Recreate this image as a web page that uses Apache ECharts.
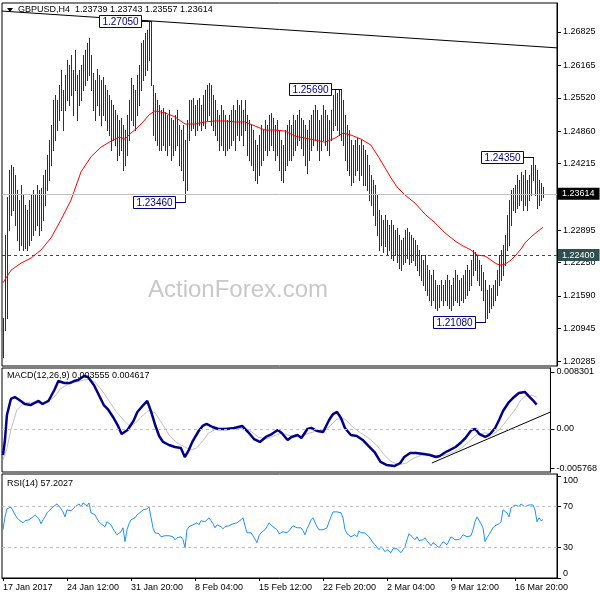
<!DOCTYPE html>
<html><head><meta charset="utf-8">
<script src="https://cdn.jsdelivr.net/npm/echarts@6/dist/echarts.min.js"></script>
<style>html,body{margin:0;padding:0;background:#fff}#c{width:600px;height:600px}</style>
</head><body><div id="c"></div>
<script>
// ---------- DATA ----------
const symbol = 'GBPUSD,H4';
const lastOHLC = [1.23739, 1.23743, 1.23557, 1.23614];

const highs = [
1.2115,1.2280,1.2355,1.2409,1.2419,1.2415,1.2399,1.2369,1.2349,1.2379,
1.2359,1.2339,1.2329,1.2349,1.2359,1.2369,1.2359,1.2379,1.2369,1.2373,
1.2399,1.2409,1.2439,1.2468,1.2498,1.2548,1.2558,1.2548,1.2577,1.2607,
1.2567,1.2597,1.2627,1.2617,1.2637,1.2607,1.2647,1.2597,1.2607,1.2617,
1.2637,1.2647,1.2661,1.2671,1.2637,1.2601,1.2587,1.2609,1.2597,1.2587,
1.2593,1.2577,1.2567,1.2558,1.2548,1.2538,1.2528,1.2518,1.2508,1.2512,
1.2498,1.2488,1.2518,1.2548,1.2591,1.2577,1.2567,1.2597,1.2617,1.2661,
1.2667,1.2681,1.2687,1.2702,1.2705,1.2577,1.2561,1.2548,1.2538,1.2528,
1.2532,1.2524,1.2518,1.2528,1.2512,1.2508,1.2518,1.2528,1.2498,1.2488,
1.2498,1.2468,1.2508,1.2548,1.2548,1.2552,1.2538,1.2548,1.2552,1.2538,
1.2558,1.2567,1.2577,1.2581,1.2577,1.2558,1.2548,1.2528,1.2518,1.2538,
1.2528,1.2518,1.2508,1.2518,1.2528,1.2538,1.2528,1.2548,1.2538,1.2548,
1.2528,1.2548,1.2518,1.2508,1.2498,1.2488,1.2468,1.2458,1.2478,1.2498,
1.2488,1.2508,1.2498,1.2518,1.2522,1.2512,1.2498,1.2508,1.2488,1.2468,
1.2458,1.2488,1.2498,1.2508,1.2498,1.2518,1.2508,1.2518,1.2528,1.2512,
1.2508,1.2498,1.2488,1.2508,1.2518,1.2528,1.2538,1.2528,1.2508,1.2518,
1.2538,1.2528,1.2518,1.2508,1.2528,1.2558,1.2567,1.2561,1.2567,1.2569,
1.2548,1.2518,1.2498,1.2488,1.2468,1.2458,1.2468,1.2472,1.2458,1.2468,
1.2458,1.2448,1.2439,1.2419,1.2399,1.2389,1.2379,1.2359,1.2329,1.2319,
1.2310,1.2319,1.2310,1.2300,1.2310,1.2300,1.2290,1.2294,1.2280,1.2270,
1.2274,1.2290,1.2294,1.2286,1.2280,1.2274,1.2270,1.2260,1.2250,1.2240,
1.2230,1.2240,1.2220,1.2210,1.2200,1.2210,1.2191,1.2181,1.2181,1.2191,
1.2181,1.2191,1.2200,1.2191,1.2181,1.2194,1.2210,1.2200,1.2191,1.2194,
1.2200,1.2210,1.2220,1.2210,1.2230,1.2250,1.2246,1.2240,1.2230,1.2220,
1.2206,1.2191,1.2171,1.2181,1.2175,1.2181,1.2191,1.2210,1.2240,1.2250,
1.2260,1.2280,1.2319,1.2349,1.2369,1.2373,1.2379,1.2399,1.2389,1.2405,
1.2399,1.2409,1.2389,1.2399,1.2419,1.2435,1.2419,1.2409,1.2389,1.2383,
1.23743];

const lows = [
1.2038,1.2091,1.2115,1.2290,1.2319,1.2329,1.2300,1.2270,1.2250,1.2260,
1.2250,1.2254,1.2250,1.2260,1.2270,1.2280,1.2290,1.2300,1.2280,1.2290,
1.2310,1.2339,1.2369,1.2389,1.2419,1.2448,1.2468,1.2488,1.2508,1.2528,
1.2488,1.2528,1.2548,1.2538,1.2558,1.2518,1.2567,1.2508,1.2538,1.2548,
1.2567,1.2577,1.2587,1.2597,1.2567,1.2528,1.2508,1.2538,1.2518,1.2498,
1.2518,1.2508,1.2488,1.2478,1.2448,1.2468,1.2458,1.2429,1.2439,1.2448,
1.2409,1.2419,1.2439,1.2468,1.2508,1.2498,1.2488,1.2518,1.2538,1.2567,
1.2587,1.2597,1.2607,1.2627,1.2577,1.2478,1.2468,1.2458,1.2448,1.2448,
1.2458,1.2448,1.2439,1.2458,1.2429,1.2439,1.2448,1.2458,1.2419,1.2409,
1.2389,1.2346,1.2369,1.2468,1.2488,1.2492,1.2478,1.2488,1.2498,1.2488,
1.2498,1.2492,1.2508,1.2518,1.2498,1.2488,1.2478,1.2468,1.2448,1.2458,
1.2448,1.2439,1.2448,1.2452,1.2458,1.2468,1.2448,1.2478,1.2468,1.2478,
1.2458,1.2488,1.2439,1.2429,1.2419,1.2409,1.2389,1.2383,1.2399,1.2419,
1.2429,1.2448,1.2439,1.2448,1.2458,1.2448,1.2429,1.2439,1.2409,1.2389,
1.2385,1.2409,1.2419,1.2429,1.2429,1.2439,1.2448,1.2458,1.2468,1.2452,
1.2439,1.2419,1.2403,1.2429,1.2448,1.2458,1.2468,1.2448,1.2429,1.2448,
1.2468,1.2458,1.2448,1.2439,1.2468,1.2488,1.2498,1.2488,1.2478,1.2468,
1.2458,1.2429,1.2409,1.2399,1.2379,1.2385,1.2399,1.2409,1.2389,1.2399,
1.2379,1.2379,1.2369,1.2349,1.2339,1.2319,1.2300,1.2280,1.2250,1.2260,
1.2246,1.2258,1.2240,1.2250,1.2234,1.2230,1.2240,1.2226,1.2214,1.2210,
1.2222,1.2226,1.2234,1.2222,1.2226,1.2230,1.2220,1.2210,1.2200,1.2191,
1.2181,1.2171,1.2161,1.2151,1.2141,1.2151,1.2135,1.2131,1.2137,1.2151,
1.2141,1.2151,1.2141,1.2135,1.2131,1.2141,1.2151,1.2147,1.2141,1.2151,
1.2147,1.2155,1.2161,1.2171,1.2181,1.2200,1.2210,1.2191,1.2181,1.2171,
1.2151,1.2108,1.2115,1.2127,1.2135,1.2141,1.2151,1.2161,1.2181,1.2191,
1.2200,1.2220,1.2250,1.2260,1.2300,1.2329,1.2325,1.2333,1.2339,1.2349,
1.2329,1.2339,1.2329,1.2349,1.2359,1.2389,1.2359,1.2333,1.2339,1.2349,
1.23557];

const smaX = [0,4,9,14,19,24,29,34,39,44,49,54,58,61,64,67,70,73,76,81,86,91,96,101,106,111,116,121,126,131,136,141,146,151,156,161,166,170,174,179,184,188,191,194,197,201,206,211,216,221,226,230,234,237,241,244,247,249,251,254,256,259,261,264,267,270];
const smaY = [1.2185,1.2210,1.2224,1.2234,1.2250,1.2274,1.2310,1.2349,1.2405,1.2435,1.2454,1.2466,1.2474,1.2470,1.2482,1.2492,1.2504,1.2518,1.2526,1.2522,1.2514,1.2500,1.2500,1.2504,1.2506,1.2506,1.2504,1.2504,1.2496,1.2488,1.2488,1.2486,1.2476,1.2472,1.2468,1.2464,1.2472,1.2482,1.2478,1.2470,1.2458,1.2433,1.2413,1.2393,1.2375,1.2359,1.2343,1.2321,1.2304,1.2284,1.2268,1.2258,1.2250,1.2240,1.2238,1.2230,1.2222,1.2220,1.2222,1.2230,1.2238,1.2252,1.2264,1.2276,1.2286,1.2295];

const trendX = [-0.5, 277];
const trendY = [1.2724, 1.2651];
const supportLevel = 1.2240;

const annotX = [74, 91, 169, 241, 265];
const annotY = [1.2705, 1.2346, 1.2569, 1.2108, 1.2435];

const priceTicks = [1.26825,1.26165,1.25520,1.24860,1.24215,1.22895,1.22250,1.21590,1.20945,1.20285];

const macdX = [0,1,2,4,6,9,11,14,16,18,20,21,23,26,28,29,31,34,36,38,41,43,44,46,48,51,53,56,58,60,61,63,66,68,71,73,75,77,79,81,84,87,90,92,94,96,99,101,103,106,109,113,117,121,124,127,130,133,136,139,141,144,146,149,151,154,156,159,162,165,167,169,171,173,176,179,182,185,188,191,194,198,201,203,206,209,213,216,219,221,224,226,229,232,234,237,239,241,244,246,249,251,253,256,258,261,264,266,268,270];
const macdY = [-0.00379,-0.00160,0.00204,0.00437,0.00466,0.00408,0.00364,0.00349,0.00379,0.00408,
0.00364,0.00349,0.00408,0.00568,0.00699,0.00713,0.00670,0.00670,0.00699,0.00713,
0.00772,0.00757,0.00728,0.00641,0.00524,0.00349,0.00291,0.00160,0.00058,-0.00073,
-0.00102,-0.00015,0.00116,0.00248,0.00349,0.00408,0.00248,0.00058,-0.00102,-0.00189,
-0.00233,-0.00262,-0.00277,-0.00408,-0.00306,-0.00175,-0.00029,0.00044,0.00073,0.00029,
0.00000,0.00000,0.00015,0.00044,-0.00044,-0.00146,-0.00189,-0.00116,-0.00073,-0.00015,
-0.00058,-0.00160,-0.00116,-0.00087,-0.00131,0.00000,0.00015,-0.00029,-0.00044,0.00131,
0.00218,0.00248,0.00160,0.00015,-0.00087,-0.00102,-0.00160,-0.00248,-0.00335,-0.00480,
-0.00524,-0.00539,-0.00495,-0.00408,-0.00349,-0.00349,-0.00364,-0.00379,-0.00408,-0.00393,
-0.00335,-0.00306,-0.00262,-0.00189,-0.00131,-0.00015,0.00000,-0.00073,-0.00116,-0.00087,
0.00015,0.00131,0.00262,0.00393,0.00451,0.00524,0.00539,0.00480,0.00422,0.003555];

const signalX = [0,2,4,7,11,15,19,22,26,29,33,37,41,44,47,51,54,57,61,64,67,71,74,77,81,84,88,92,95,98,101,104,108,113,118,123,126,129,133,137,141,144,148,151,155,159,163,166,169,173,177,181,185,189,193,196,200,204,208,212,216,220,224,228,232,236,240,244,248,251,255,259,262,265,268,270];
const signalY = [-0.00451,-0.00277,-0.00015,0.00277,0.00393,0.00379,0.00379,0.00393,0.00466,0.00582,
0.00655,0.00684,0.00713,0.00728,0.00670,0.00524,0.00393,0.00262,0.00131,0.00044,
0.00087,0.00204,0.00277,0.00233,0.00058,-0.00087,-0.00204,-0.00262,-0.00306,-0.00277,
-0.00175,-0.00058,0.00000,0.00015,0.00015,0.00000,-0.00044,-0.00116,-0.00146,-0.00102,
-0.00058,-0.00087,-0.00116,-0.00102,-0.00058,-0.00029,-0.00015,0.00058,0.00146,0.00146,
0.00029,-0.00058,-0.00131,-0.00233,-0.00379,-0.00466,-0.00524,-0.00495,-0.00422,-0.00379,
-0.00379,-0.00393,-0.00379,-0.00335,-0.00277,-0.00175,-0.00073,-0.00058,-0.00073,-0.00015,
0.00131,0.00277,0.00422,0.00495,0.00490,0.004617];

const macdTrendX = [217, 277];
const macdTrendY = [-0.00495, 0.002475];
const macdTicks = [0.008301, 0, -0.005768];

const rsi = [
47.3,59.9,67.8,69.7,69.5,65.8,61.9,59.0,57.0,55.1,
54.1,56.1,58.0,57.0,58.0,59.9,61.9,62.8,58.0,53.1,
57.0,59.9,63.8,65.8,67.7,69.7,70.6,72.6,70.6,68.7,
64.8,59.9,66.8,66.8,65.8,66.8,69.7,70.6,72.6,69.7,
73.6,74.6,70.6,73.6,63.8,61.9,61.9,58.0,55.1,53.1,
51.2,50.2,55.1,57.0,52.1,48.2,45.3,42.4,43.4,45.3,
49.2,35.6,47.3,53.1,57.0,56.1,59.0,61.9,63.8,64.8,
66.8,65.8,67.7,69.7,68.7,49.2,44.3,42.4,43.4,40.4,
41.4,41.4,39.5,41.4,40.4,40.4,37.5,39.5,41.4,40.4,
37.5,29.7,47.3,50.2,51.2,52.1,53.1,54.1,52.1,56.1,
58.0,55.1,57.0,59.0,56.1,53.1,49.2,52.1,53.1,50.2,
48.2,50.2,49.2,51.2,52.1,53.1,52.1,54.1,55.1,57.0,
59.0,51.2,44.3,43.4,44.3,41.4,40.4,34.6,41.4,44.3,
45.3,47.3,50.2,54.1,53.1,50.2,52.1,47.3,43.4,42.4,
45.3,46.3,44.3,46.3,48.2,51.2,52.1,49.2,50.2,49.2,
46.3,42.4,48.2,52.1,57.0,59.0,58.0,50.2,47.3,49.2,
47.3,46.3,49.2,55.1,59.9,64.8,63.8,64.8,65.8,63.8,
59.0,47.3,43.4,42.4,40.4,41.4,42.4,40.4,46.3,44.3,
42.4,44.3,42.4,40.4,38.5,34.6,32.6,30.7,27.8,30.7,
28.7,25.8,27.8,26.8,24.8,28.7,29.7,28.7,26.8,24.8,
27.8,30.7,37.5,43.4,41.4,39.5,37.5,40.4,36.5,34.6,
37.5,39.5,36.5,35.6,31.7,34.6,35.6,31.7,29.7,32.6,
35.6,34.6,32.6,31.7,40.4,38.5,37.5,35.6,37.5,39.5,
42.4,44.3,40.4,39.5,41.4,47.3,55.1,59.9,58.0,53.1,
49.2,35.6,39.5,42.4,43.4,49.2,51.2,53.1,53.1,55.1,
66.8,68.7,63.8,59.9,68.7,70.6,71.6,70.6,69.7,72.6,
71.6,69.7,68.7,71.6,70.6,71.6,66.8,55.1,59.0,56.1,
57.2027];
const rsiLevels = [70, 30];

const dateTicks = [0,32,64,96,128,160,192,224,256];
const dateLabels = ['17 Jan 2017','24 Jan 12:00','31 Jan 20:00','8 Feb 04:00','15 Feb 12:00','22 Feb 20:00','2 Mar 04:00','9 Mar 12:00','16 Mar 20:00'];

// ---------- CHART ----------
const FONT = 'Liberation Sans';
const barColor = '#0d3a58';
const chart = echarts.init(document.getElementById('c'), null, {renderer:'canvas', width:600, height:600});

const gridCommon = {left:2, width:555, show:true, borderColor:'#000', borderWidth:1, backgroundColor:'transparent'};
function xAx(gi, show){
  return {type:'value', gridIndex:gi, min:-0.5, max:277, show:show,
    splitLine:{show:false},
    axisLine:{show:show, onZero:false, lineStyle:{color:'#000'}},
    axisTick:{show:show, length:3, customValues:dateTicks, lineStyle:{color:'#000'}},
    axisLabel:{show:show, customValues:dateTicks, align:'left', margin:5, color:'#000', fontSize:9, fontFamily:FONT,
      formatter:(v)=>{const k=dateTicks.indexOf(Math.round(v)); return k>=0?dateLabels[k]:'';}}
  };
}
function yAx(gi, min, max, ticks, fmt, extra){
  const o = {type:'value', gridIndex:gi, position:'right', min:min, max:max,
    splitLine:{show:false},
    axisLine:{show:true, onZero:false, lineStyle:{color:'#000'}},
    axisTick:{show:true, length:4, customValues:ticks, lineStyle:{color:'#000'}},
    axisLabel:{customValues:ticks, formatter:fmt, color:'#000', fontSize:9, fontFamily:FONT, margin:6}
  };
  if (extra) { o.axisLine.show = false; o.axisLabel.verticalAlign = extra; }
  return o;
}

const lastClose = lastOHLC[3];
const ts = {fontSize:9, fontWeight:'normal', color:'#000', fontFamily:FONT};
const smaData = smaX.map((x,k)=>[x, smaY[k]]);

const option = {
  animation:false,
  backgroundColor:'#fff',
  textStyle:{fontFamily:FONT},
  title:[
    {text: symbol + '  ' + lastOHLC.map(v=>v.toFixed(5)).join(' '), left:18, top:5, padding:0, textStyle:ts},
    {text: 'MACD(12,26,9) ' + macdY[macdY.length-1].toFixed(6) + ' ' + signalY[signalY.length-1].toFixed(6), left:7, top:371, padding:0, textStyle:ts},
    {text: 'RSI(14) ' + rsi[rsi.length-1].toFixed(4), left:7, top:479, padding:0, textStyle:ts}
  ],
  grid:[
    Object.assign({top:3, height:363}, gridCommon),
    Object.assign({top:368, height:104}, gridCommon),
    Object.assign({top:474, height:104}, gridCommon)
  ],
  xAxis:[xAx(0,false), xAx(1,false), xAx(2,true)],
  yAxis:[
    yAx(0, 1.20199, 1.27400, priceTicks, v=>v.toFixed(5)),
    yAx(1, -0.006261, 0.008882, macdTicks, v=>Math.abs(v)<1e-9?'0.00':v.toFixed(6)),
    yAx(2, 0, 101.9, rsiLevels, v=>String(Math.round(v))),
    yAx(2, 0, 101.9, [100], v=>String(Math.round(v)), 'top'),
    yAx(2, 0, 101.9, [0], v=>String(Math.round(v)), 'bottom')
  ],
  graphic:[
    {type:'polygon', shape:{points:[[7,8],[13,8],[10,12]]}, style:{fill:'#000'}},
    {type:'text', x:148, y:290, z:0, style:{text:'ActionForex.com', fill:'#c8c8c8', font:'24px "Liberation Sans"', verticalAlign:'middle'}}
  ],
  series:[
    { // price levels (carrier series, invisible line)
      type:'line', xAxisIndex:0, yAxisIndex:0, data:smaData, z:1, silent:true, symbol:'none',
      lineStyle:{opacity:0},
      markLine:{symbol:['none','none'], silent:true, animation:false, precision:5,
        data:[
          {yAxis:lastClose, lineStyle:{color:'#c0c0c0', type:'solid', width:1},
            label:{show:true, position:'end', distance:1, formatter:lastClose.toFixed(5), color:'#fff', backgroundColor:'#000', padding:[2,5,1,4], fontSize:9, fontFamily:FONT}},
          {yAxis:supportLevel, lineStyle:{color:'#2f4f4f', type:[3,3], width:1},
            label:{show:true, position:'end', distance:1, formatter:supportLevel.toFixed(5), color:'#fff', backgroundColor:'#2f4f4f', padding:[2,5,1,4], fontSize:9, fontFamily:FONT}}
        ]}
    },
    { // OHLC bars (high-low), drawn as 1px-wide filled rects
      type:'custom', xAxisIndex:0, yAxisIndex:0, z:2, silent:true,
      data: highs.map((h,i)=>[i,h,lows[i]]),
      encode:{x:0, y:[1,2]},
      renderItem:(params, api)=>{
        const a = api.coord([api.value(0), api.value(1)]);
        const b = api.coord([api.value(0), api.value(2)]);
        const x = Math.round(a[0]);
        const y1 = Math.round(a[1]), y2 = Math.round(b[1]) + 1;
        return {type:'rect', shape:{x:x, y:y1, width:1, height:Math.max(1, y2 - y1)}, style:{fill:barColor}};
      }
    },
    { // moving average
      type:'line', xAxisIndex:0, yAxisIndex:0, z:3, symbol:'none', silent:true,
      data: smaData,
      lineStyle:{color:'#ff0000', width:1}
    },
    { // trendline
      type:'line', xAxisIndex:0, yAxisIndex:0, z:4, symbol:'none', silent:true,
      data: trendX.map((x,k)=>[x, trendY[k]]),
      lineStyle:{color:'#000', width:1}
    },
    { // price annotations
      type:'custom', xAxisIndex:0, yAxisIndex:0, z:10, silent:true, clip:false,
      data: annotX.map((x,k)=>[x, annotY[k]]),
      encode:{x:0, y:1},
      renderItem:(params, api)=>{
        const p = api.coord([api.value(0), api.value(1)]);
        const w = 42, h = 12, gap = 10;
        const px = Math.round(p[0]) + 0.5, py = Math.round(p[1]) + 0.5;
        const bx = Math.round(p[0]) - gap - w + 0.5, by = Math.round(p[1]) - 6 + 0.5;
        return {type:'group', children:[
          {type:'line', shape:{x1:bx+w, y1:py, x2:px, y2:py}, style:{stroke:'#000080', lineWidth:1}},
          {type:'rect', shape:{x:bx, y:by, width:w, height:h}, style:{fill:'#fff', stroke:'#000080', lineWidth:1}},
          {type:'text', x:bx+w/2, y:by+h/2+0.5, style:{text:api.value(1).toFixed(5), fill:'#000080', font:'10px "Liberation Sans"', align:'center', verticalAlign:'middle'}}
        ]};
      }
    },
    { // MACD signal
      type:'line', xAxisIndex:1, yAxisIndex:1, z:2, symbol:'none', silent:true,
      data: signalX.map((x,k)=>[x, signalY[k]]),
      lineStyle:{color:'#c0c0c0', width:1},
      markLine:{symbol:['none','none'], silent:true, animation:false, label:{show:false},
        data:[{yAxis:0, lineStyle:{color:'#c0c0c0', type:[3,3], width:1}}]}
    },
    { // MACD main
      type:'line', xAxisIndex:1, yAxisIndex:1, z:3, symbol:'none', silent:true,
      data: macdX.map((x,k)=>[x, macdY[k]]),
      lineStyle:{color:'#00008b', width:2.5}
    },
    { // MACD trendline
      type:'line', xAxisIndex:1, yAxisIndex:1, z:4, symbol:'none', silent:true,
      data: macdTrendX.map((x,k)=>[x, macdTrendY[k]]),
      lineStyle:{color:'#000', width:1}
    },
    { // RSI
      type:'line', xAxisIndex:2, yAxisIndex:2, z:3, symbol:'none', silent:true,
      data: rsi.map((v,i)=>[i, v]),
      lineStyle:{color:'#1e90ff', width:1},
      markLine:{symbol:['none','none'], silent:true, animation:false, label:{show:false},
        data: rsiLevels.map(v=>({yAxis:v, lineStyle:{color:'#c0c0c0', type:[3,3], width:1}}))}
    }
  ]
};
chart.setOption(option);
</script>
</body></html>
